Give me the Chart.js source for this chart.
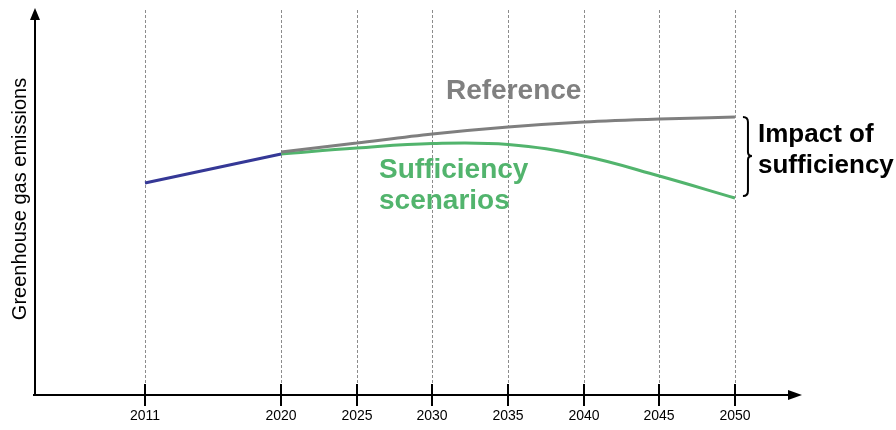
<!DOCTYPE html>
<html>
<head>
<meta charset="utf-8">
<script src="https://cdn.jsdelivr.net/npm/chart.js@4"></script>
<style>
  html, body { margin: 0; padding: 0; background: #fff; }
  #wrap { width: 896px; height: 430px; position: relative; }
</style>
</head>
<body>
<div id="wrap"><canvas id="chart"></canvas></div>
<script>
// datos (unidades arbitrarias, sin eje y graduado)
const tickYears = [2011, 2020, 2025, 2030, 2035, 2040, 2045, 2050];
const historicYears = [2011, 2020];
const historicValues = [212, 241];
const scenarioYears = [2020, 2025, 2030, 2035, 2040, 2045, 2050];
const referenceValues = [243, 252, 261, 268, 273, 276, 278];
const sufficiencyValues = [241, 247, 251.5, 250.5, 239, 219, 197];

const toPoints = (xs, ys) => xs.map((x, i) => ({ x: x, y: ys[i] }));

// ejes con flechas, lineas discontinuas y textos
const decoPlugin = {
  id: 'deco',
  beforeDatasetsDraw(chart) {
    const ctx = chart.ctx;
    const x = chart.scales.x;
    const area = chart.chartArea;
    ctx.save();
    ctx.strokeStyle = '#8c8c8c';
    ctx.lineWidth = 1;
    ctx.setLineDash([3, 2]);
    tickYears.forEach(year => {
      const px = Math.round(x.getPixelForValue(year)) + 0.5;
      ctx.beginPath();
      ctx.moveTo(px, area.top);
      ctx.lineTo(px, area.bottom - 11);
      ctx.stroke();
    });
    ctx.restore();
  },
  afterDraw(chart) {
    const ctx = chart.ctx;
    const x = chart.scales.x;
    const area = chart.chartArea;
    ctx.save();
    ctx.strokeStyle = '#000';
    ctx.fillStyle = '#000';
    ctx.lineWidth = 2;

    // eje y
    ctx.beginPath();
    ctx.moveTo(area.left, area.bottom + 1);
    ctx.lineTo(area.left, area.top + 8);
    ctx.stroke();
    ctx.beginPath();
    ctx.moveTo(area.left, area.top - 2);
    ctx.lineTo(area.left - 5, area.top + 10);
    ctx.lineTo(area.left + 5, area.top + 10);
    ctx.closePath();
    ctx.fill();

    // eje x
    ctx.beginPath();
    ctx.moveTo(area.left - 2, area.bottom);
    ctx.lineTo(area.right - 10, area.bottom);
    ctx.stroke();
    ctx.beginPath();
    ctx.moveTo(area.right + 2, area.bottom);
    ctx.lineTo(area.right - 12, area.bottom - 5);
    ctx.lineTo(area.right - 12, area.bottom + 5);
    ctx.closePath();
    ctx.fill();

    // marcas y etiquetas
    ctx.font = '14px "Liberation Sans", Arial, sans-serif';
    ctx.textAlign = 'center';
    ctx.textBaseline = 'middle';
    tickYears.forEach(year => {
      const px = Math.round(x.getPixelForValue(year));
      ctx.beginPath();
      ctx.moveTo(px, area.bottom - 11);
      ctx.lineTo(px, area.bottom + 11);
      ctx.stroke();
      ctx.fillText(String(year), px, area.bottom + 21);
    });

    // titulo eje y
    ctx.save();
    ctx.translate(20, 199);
    ctx.rotate(-Math.PI / 2);
    ctx.font = '20px "Liberation Sans", Arial, sans-serif';
    ctx.fillText('Greenhouse gas emissions', 0, 0);
    ctx.restore();

    // textos de series
    ctx.textAlign = 'left';
    ctx.font = 'bold 28px "Liberation Sans", Arial, sans-serif';
    ctx.fillStyle = '#808080';
    ctx.fillText('Reference', 446, 91);
    ctx.fillStyle = '#52b46d';
    ctx.fillText('Sufficiency', 379, 170);
    ctx.fillText('scenarios', 379, 201);

    // llave
    const bx = x.getPixelForValue(2050) + 13;
    ctx.strokeStyle = '#000';
    ctx.lineWidth = 2;
    ctx.beginPath();
    ctx.moveTo(bx - 5, 117);
    ctx.quadraticCurveTo(bx, 117, bx, 122);
    ctx.lineTo(bx, 152);
    ctx.quadraticCurveTo(bx, 156, bx + 4, 156);
    ctx.quadraticCurveTo(bx, 156, bx, 160);
    ctx.lineTo(bx, 191);
    ctx.quadraticCurveTo(bx, 196, bx - 5, 196);
    ctx.stroke();

    ctx.fillStyle = '#000';
    ctx.font = 'bold 26px "Liberation Sans", Arial, sans-serif';
    ctx.fillText('Impact of', 758, 135);
    ctx.fillText('sufficiency', 758, 166);
    ctx.restore();
  }
};

new Chart(document.getElementById('chart'), {
  type: 'line',
  data: {
    datasets: [
      {
        label: 'Historic',
        data: toPoints(historicYears, historicValues),
        borderColor: '#353896',
        borderWidth: 3,
        pointRadius: 0,
        tension: 0
      },
      {
        label: 'Reference',
        data: toPoints(scenarioYears, referenceValues),
        borderColor: '#7f7f7f',
        borderWidth: 3,
        pointRadius: 0,
        cubicInterpolationMode: 'monotone'
      },
      {
        label: 'Sufficiency scenarios',
        data: toPoints(scenarioYears, sufficiencyValues),
        borderColor: '#52b46d',
        borderWidth: 3,
        pointRadius: 0,
        tension: 0.4
      }
    ]
  },
  options: {
    responsive: true,
    maintainAspectRatio: false,
    animation: false,
    layout: { padding: { left: 35, right: 96, top: 10, bottom: 35 } },
    plugins: { legend: { display: false }, tooltip: { enabled: false } },
    scales: {
      x: { type: 'linear', min: 2003.73, max: 2054.3, display: false },
      y: { min: 0, max: 385, display: false }
    }
  },
  plugins: [decoPlugin]
});
</script>
</body>
</html>
